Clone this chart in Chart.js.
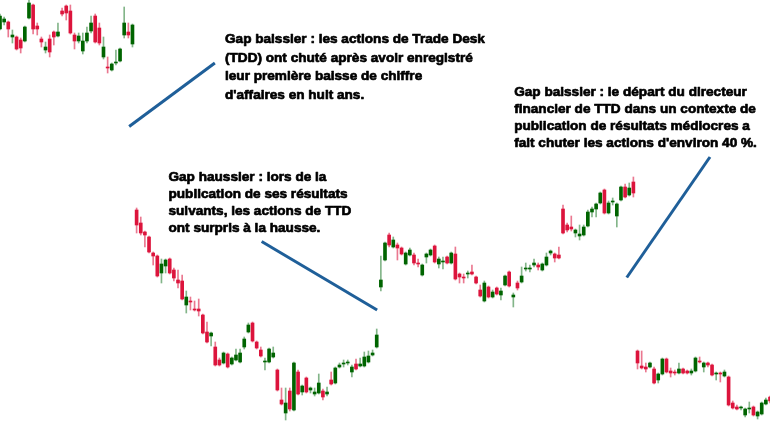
<!DOCTYPE html>
<html>
<head>
<meta charset="utf-8">
<script src="https://cdn.jsdelivr.net/npm/chart.js@4.4.1/dist/chart.umd.min.js"></script>
<style>
html,body{margin:0;padding:0;background:#fff;overflow:hidden}
#wrap{position:relative;width:770px;height:422px}
</style>
</head>
<body>
<div id="wrap"><canvas id="c"></canvas></div>
<script>
// Daily OHLC prices (USD)
const openP = [
118.6,120.0,120.0,117.0,117.0,116.4,116.2,120.8,123.4,119.2,116.6,114.4,116.6,118.0,117.2,122.2,123.2,122.2,117.4,116.2,114.2,116.2,118.2,121.2,118.8,113.0,111.0,110.4,111.8,112.2,117.4,118.0,115.6,
82.4,79.8,78.0,77.0,73.8,73.2,69.8,71.2,72.6,70.4,68.4,68.2,63.4,64.2,62.6,62.6,61.4,58.0,57.2,55.0,52.4,51.8,53.6,51.6,52.4,52.0,55.0,58.0,59.8,56.0,54.4,52.0,52.0,53.0,50.4,44.4,41.8,46.2,42.4,50.0,46.0,48.8,46.4,45.6,45.8,46.2,45.6,48.4,47.8,51.0,51.6,51.8,50.0,51.6,51.2,51.2,52.0,53.4,55.0,
67.0,72.4,77.4,75.0,75.4,74.8,71.6,73.4,73.4,71.8,69.4,73.0,73.4,75.2,71.6,72.0,73.0,71.8,73.6,69.6,69.0,69.6,70.0,69.0,66.4,64.2,67.0,65.0,66.8,65.4,67.4,70.0,65.0,67.8,68.0,70.6,70.6,71.4,71.4,70.4,71.4,73.8,73.6,73.4,82.6,79.4,79.0,77.8,77.2,77.4,79.2,82.0,82.6,83.8,86.4,81.8,84.0,81.2,84.4,87.0,85.4,88.0,
54.2,51.2,51.0,51.0,50.6,48.4,49.6,52.6,50.2,50.0,49.8,50.6,50.2,49.8,50.2,52.2,51.0,51.8,51.4,49.6,49.8,49.2,49.0,43.8,43.0,42.8,41.4,42.6,43.0,41.2,41.6,43.6,45.0
];
const highP = [
121.6,121.0,120.2,118.4,117.2,116.8,119.2,124.8,123.6,119.8,117.0,116.0,117.4,118.2,119.8,122.8,123.4,123.4,117.8,117.8,117.8,119.0,121.2,121.6,119.8,117.0,113.0,111.8,114.4,114.8,123.0,119.8,119.6,
82.8,81.0,78.2,77.2,74.0,73.4,72.6,72.6,72.8,70.8,70.4,69.4,66.2,65.0,64.2,64.6,61.6,60.0,58.0,56.0,52.8,54.0,53.8,53.0,54.6,54.6,57.0,59.8,60.0,56.2,55.0,52.8,54.8,55.0,50.6,46.8,46.8,46.8,52.0,50.4,47.4,49.0,47.0,46.8,49.6,46.6,47.0,50.0,51.0,51.8,52.4,52.4,51.4,52.6,52.8,54.0,54.2,54.4,58.6,
73.2,76.0,77.8,77.0,75.8,75.0,74.0,74.8,73.8,72.6,71.6,73.8,74.6,75.4,73.0,73.0,73.2,74.0,75.0,69.8,69.6,70.2,71.4,69.2,67.4,68.2,67.2,66.4,67.0,66.8,69.4,70.2,65.8,68.2,71.0,71.8,71.4,72.6,71.8,71.8,73.8,74.4,73.8,75.0,83.4,79.8,81.2,78.6,79.4,79.4,82.4,83.0,83.8,86.0,86.6,84.2,84.8,83.8,87.2,87.6,87.8,89.0,
54.4,54.2,51.8,52.0,51.0,49.8,52.8,52.8,50.8,50.4,51.8,50.8,50.4,50.6,53.0,53.0,52.0,52.0,51.6,50.0,50.0,50.4,49.2,44.2,43.4,43.2,42.8,44.0,43.2,42.2,44.0,44.8,45.2
];
const lowP = [
118.4,119.4,117.0,115.8,114.4,113.8,116.0,120.6,117.6,117.4,115.0,113.8,113.0,115.4,117.0,121.2,120.4,117.6,114.6,115.8,113.6,115.8,117.8,115.8,115.4,112.6,109.8,110.2,111.4,112.0,116.8,116.8,115.0,
77.8,77.4,75.0,73.8,71.4,69.0,67.8,69.8,69.6,68.2,66.8,64.4,61.8,62.4,62.2,61.2,57.6,55.8,55.2,51.2,51.2,51.6,50.8,51.4,52.2,51.8,54.6,57.8,56.0,54.6,53.0,50.4,51.8,52.8,46.2,43.4,40.4,42.2,42.2,45.4,45.4,45.8,45.8,45.2,45.6,44.4,45.2,47.4,47.6,50.8,51.0,51.4,49.0,50.4,51.0,51.0,51.8,53.2,54.8,
66.2,72.2,75.0,74.8,72.4,73.4,71.4,73.2,71.4,71.0,69.2,71.8,73.2,71.8,70.8,70.6,71.6,71.6,68.4,67.8,67.8,68.8,69.4,67.6,65.0,64.0,64.8,64.8,65.4,64.4,67.2,67.0,63.0,66.4,67.8,70.2,70.0,71.0,70.4,70.2,71.2,73.4,72.0,72.6,77.6,78.0,78.2,77.0,76.4,77.2,79.0,81.0,81.0,83.6,81.6,81.6,83.4,79.0,84.2,84.8,85.2,85.0,
50.6,50.6,50.0,50.8,47.6,47.8,49.4,49.8,49.0,49.4,49.6,49.6,49.6,49.4,50.0,51.8,50.0,51.0,49.2,48.4,48.0,49.0,43.2,42.6,42.4,42.4,41.0,41.8,41.2,40.6,41.4,43.4,43.8
];
const closeP = [
121.2,120.6,118.6,117.4,114.6,114.8,119.0,123.8,118.6,118.6,116.0,115.0,114.0,117.0,118.0,121.6,121.8,117.8,116.2,117.2,116.2,117.8,119.8,116.0,115.8,115.0,110.8,111.6,112.0,114.6,119.8,117.4,119.4,
79.4,77.8,77.4,74.0,73.2,69.2,71.6,72.4,69.8,68.8,67.8,64.6,65.0,64.0,62.4,62.2,57.8,56.0,57.8,51.4,51.4,53.8,51.0,52.8,53.4,53.8,56.6,59.4,56.2,54.8,53.2,52.2,54.6,53.8,46.4,43.6,43.8,42.6,51.8,45.6,47.2,46.0,46.8,46.0,47.8,45.0,46.0,47.6,50.8,51.4,51.8,52.0,51.0,50.6,51.6,53.0,53.2,53.8,57.4,
68.4,75.8,75.4,76.4,74.8,73.6,73.8,74.4,71.8,71.6,71.4,73.6,74.4,72.0,72.6,72.2,71.8,73.8,68.6,69.0,68.8,69.8,69.6,67.8,65.2,67.8,65.0,66.0,65.6,66.2,69.2,67.2,65.4,66.8,69.2,70.8,70.8,71.8,71.0,71.6,73.0,74.2,72.8,72.8,77.8,78.4,78.6,78.4,77.6,79.0,82.0,82.6,83.6,85.8,81.8,83.8,84.2,83.6,87.0,85.0,86.8,85.8,
51.8,50.8,50.6,51.8,47.8,49.6,52.6,50.0,49.8,49.8,50.6,49.8,49.8,50.2,52.8,52.0,51.8,51.4,49.4,49.8,49.6,50.0,43.4,42.8,42.6,43.0,42.6,42.8,41.4,42.0,43.8,44.4,44.2
];
// Trading sessions (categories)
const sessions = openP.map((_, i) => 'Séance ' + (i + 1));

// Annotation texts and the session / price they sit at
const noteLines1 = ["Gap baissier : les actions de Trade Desk", "(TDD) ont chuté après avoir enregistré", "leur première baisse de chiffre", "d'affaires en huit ans."];
const noteLines2 = ["Gap haussier : lors de la", "publication de ses résultats", "suivants, les actions de TTD", "ont surpris à la hausse."];
const noteLines3 = ["Gap baissier : le départ du directeur", "financier de TTD dans un contexte de", "publication de résultats médiocres a", "fait chuter les actions d'environ 40 %."];
const noteSession = [54.35, 40.7, 124.2];
const notePrice = [115.8, 88.2, 105.2];
// Pointer lines: [session, price] start and end
const pointerStart = [[31.2, 99.1], [63.2, 76.1], [151.4, 68.9]];
const pointerEnd = [[51.9, 111.8], [91.1, 62.4], [171.5, 93.0]];

const UP = '#006400', DOWN = '#dc143c';
const UP_WICK = 'rgba(30,120,40,0.55)', DOWN_WICK = 'rgba(220,30,70,0.6)';
const isUp = i => closeP[i] >= openP[i];

const annotate = {
  id: 'annotate',
  afterDatasetsDraw(chart) {
    const { ctx, scales: { x, y } } = chart;
    ctx.save();
    ctx.strokeStyle = '#1f5f99';
    ctx.lineWidth = 3;
    pointerStart.forEach((s, i) => {
      const e = pointerEnd[i];
      ctx.beginPath();
      ctx.moveTo(x.getPixelForValue(s[0]), y.getPixelForValue(s[1]));
      ctx.lineTo(x.getPixelForValue(e[0]), y.getPixelForValue(e[1]));
      ctx.stroke();
    });
    ctx.fillStyle = '#000';
    ctx.strokeStyle = '#000';
    ctx.lineWidth = 0.7;
    ctx.lineJoin = 'round';
    ctx.font = 'bold 13.6px "Liberation Sans", Arial, sans-serif';
    ctx.textBaseline = 'alphabetic';
    const blocks = [noteLines1, noteLines2, noteLines3];
    const spacing = [18.5, 17, 17];
    blocks.forEach((lines, b) => {
      const px = x.getPixelForValue(noteSession[b]);
      const py = y.getPixelForValue(notePrice[b]);
      lines.forEach((t, k) => {
        ctx.fillText(t, px, py + k * spacing[b]);
        ctx.strokeText(t, px, py + k * spacing[b]);
      });
    });
    ctx.restore();
  }
};

new Chart(document.getElementById('c'), {
  type: 'bar',
  data: {
    labels: sessions,
    datasets: [
      {
        label: 'Mèches',
        data: lowP.map((l, i) => [l, highP[i]]),
        backgroundColor: ctx => isUp(ctx.dataIndex) ? UP_WICK : DOWN_WICK,
        barThickness: 1,
        grouped: false,
        order: 2,
        borderWidth: 0
      },
      {
        label: 'Corps',
        data: openP.map((o, i) => [o, closeP[i]]),
        backgroundColor: ctx => isUp(ctx.dataIndex) ? UP : DOWN,
        barThickness: 3,
        grouped: false,
        minBarLength: 1,
        order: 1,
        borderWidth: 0
      }
    ]
  },
  options: {
    responsive: true,
    maintainAspectRatio: false,
    animation: false,
    layout: { padding: 0 },
    plugins: { legend: { display: false }, tooltip: { enabled: false } },
    scales: {
      x: { type: 'category', offset: false, display: false, grid: { display: false } },
      y: { min: 40, max: 124.4, display: false, grid: { display: false } }
    }
  },
  plugins: [annotate]
});
</script>
</body>
</html>
